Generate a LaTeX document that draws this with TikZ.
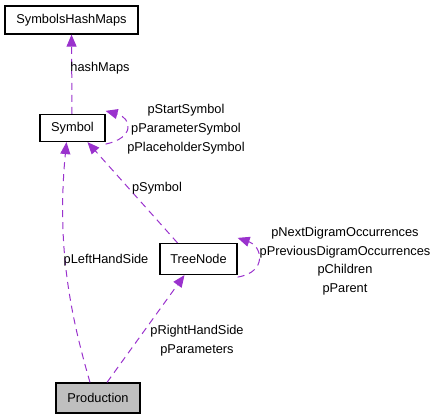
\documentclass[tikz,border=0pt]{standalone}
\usepackage{fontspec}
\setmainfont{Liberation Sans}
\usetikzlibrary{arrows.meta}
\definecolor{edgepurple}{HTML}{9A32CD}
\definecolor{prodgray}{HTML}{BFBFBF}
\begin{document}
\begin{tikzpicture}[x=1pt,y=-1pt,
  every node/.style={font=\fontsize{12.8}{14}\selectfont, inner sep=0pt},
  classbox/.style={draw=black, line width=1.2pt, minimum height=28pt, anchor=center},
  lbl/.style={text=black},
  rel/.style={draw=edgepurple, line width=1pt, dash pattern=on 7pt off 5pt,
    -{Triangle[length=12pt,width=10pt,fill=edgepurple]}}]
\useasboundingbox (0,0) rectangle (437,419);
% classes
\node[classbox, minimum width=133pt] (shm) at (71.5,20) {SymbolsHashMaps};
\node[classbox, minimum width=65pt, minimum height=27pt] (sym) at (72.5,128) {Symbol};
\node[classbox, minimum width=77pt, minimum height=31pt] (tn) at (198.5,259) {TreeNode};
\node[classbox, minimum width=84pt, minimum height=30pt, fill=prodgray] (prod) at (98,398) {Production};
% edges
\draw[rel] ([xshift=-0.5pt]sym.north) -- (shm.south);
\draw[rel] ([yshift=-2pt]sym.south east) .. controls (135,138) and (132,118) .. ([yshift=3pt]sym.north east);
\draw[rel] ([xshift=-21pt]tn.north) -- ([xshift=15pt]sym.south);
\draw[rel] ([yshift=-2pt]tn.south east) .. controls (268,272) and (262,246) .. ([yshift=5pt]tn.north east);
\draw[rel] ([xshift=-8pt]prod.north) .. controls (72,320) and (56,250) .. ([xshift=-6pt]sym.south);
\draw[rel] ([xshift=9pt]prod.north) -- ([xshift=-14pt]tn.south);
% labels
\node[lbl] (l1) at (100,68) {hashMaps};
\node[lbl] (l2) at (186,110) {pStartSymbol};
\node[lbl] (l3) at (186,129) {pParameterSymbol};
\node[lbl] (l4) at (186,148) {pPlaceholderSymbol};
\node[lbl] (l5) at (157,188) {pSymbol};
\node[lbl] (l6) at (345,233) {pNextDigramOccurrences};
\node[lbl] (l7) at (345,252) {pPreviousDigramOccurrences};
\node[lbl] (l8) at (345,270) {pChildren};
\node[lbl] (l9) at (345,289) {pParent};
\node[lbl] (l10) at (106,260) {pLeftHandSide};
\node[lbl] (l11) at (197,331) {pRightHandSide};
\node[lbl] (l12) at (197,350) {pParameters};
\end{tikzpicture}
\end{document}
